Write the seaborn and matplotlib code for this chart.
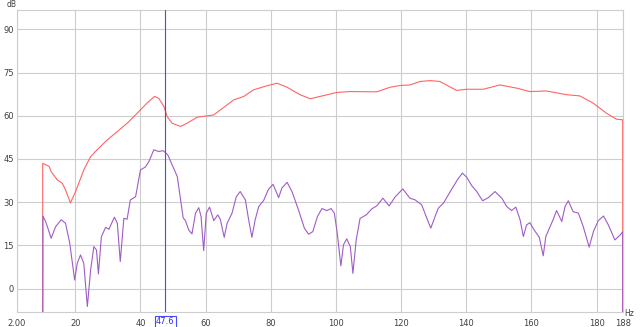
import matplotlib
matplotlib.use("Agg")
import matplotlib.pyplot as plt
import matplotlib.transforms as mtransforms
import seaborn as sns
import pandas as pd

# ---- data ----
red_hz = [10, 10, 12, 12.6, 14.5, 16, 17, 18.5, 20.1, 22.6, 24.7, 26.7, 29.8, 33.4,
          35.9, 39, 42, 44.3, 45.6, 47.2, 48.2, 49.7, 52.3, 54.3, 57.4, 60, 62.5,
          64.5, 68.6, 71.7, 74.7, 78.8, 81.9, 85, 89, 92.1, 96.2, 100.3, 104.4,
          112.5, 116.6, 119.7, 122.7, 125.8, 128.9, 131.9, 137, 140.1, 145.2,
          150.3, 155.4, 159.5, 164.6, 170.8, 174.8, 178.9, 183, 186.1, 188, 188]
red_db = [-60, 43.5, 42.4, 40.6, 37.7, 36.6, 34.3, 29.8, 33.7, 41.2, 45.8, 48.2, 51.6, 55.0,
          57.4, 60.9, 64.4, 66.7, 66.1, 63.2, 59.7, 57.4, 56.3, 57.4, 59.5, 59.9, 60.3,
          62.0, 65.5, 66.7, 69.0, 70.4, 71.3, 69.9, 67.3, 65.9, 67.0, 68.1, 68.4,
          68.3, 69.9, 70.5, 70.7, 71.9, 72.2, 71.9, 68.8, 69.2, 69.2,
          70.7, 69.6, 68.4, 68.6, 67.3, 66.9, 64.4, 60.9, 58.8, 58.6, -60]

purple_hz = [10, 10.06, 10.9, 12.6, 13.95, 15.7, 17, 18.3, 19.8, 20.6, 21.6, 22.6, 23.7,
             24.7, 25.7, 26.5, 27.1, 28, 29.3, 30.3, 32, 32.9, 33.8, 34.9, 35.9, 36.9,
             38.5, 40, 41.5, 42.6, 44.1, 45.6, 47, 48.4, 50.2, 51.3, 52.3, 53.1, 53.8,
             54.8, 55.8, 56.9, 57.9, 58.6, 59.4, 60.2, 61.2, 62.5, 63.7, 64.5, 65.7,
             66.6, 68.1, 69.4, 70.6, 72.2, 73.2, 74.2, 75.2, 76.3, 77.8, 79.3, 80.7,
             82.4, 83.4, 85, 86.5, 88.5, 90.3, 91.6, 92.9, 94.3, 95.7, 97.2, 98.5,
             99.5, 100.4, 101.5, 102.3, 103.3, 104.4, 105.2, 106.2, 107.4, 109.3, 111,
             112.5, 114.4, 116.3, 118.2, 120.5, 122.7, 124.3, 126.3, 127.9, 129.1,
             130.4, 131.4, 133, 135.5, 137.4, 138.8, 140.1, 141.7, 143.2, 145, 146.8,
             148.8, 150.9, 152.4, 153.9, 155.2, 156.5, 157.5, 158.5, 159.5, 160.8,
             162.4, 163.6, 164.4, 165.7, 166.7, 167.7, 169.3, 170.3, 171.3, 172.8,
             174.4, 175.9, 177.7, 179, 180.5, 182.1, 183.6, 185.6, 187.2, 188, 188]
purple_db = [-60, 25.2, 23.3, 17.5, 21.5, 23.9, 22.7, 15.8, 3.0, 8.8, 11.7, 8.8, -6.2,
             6.5, 14.6, 13.4, 5.1, 18.0, 21.3, 20.6, 24.8, 22.7, 9.4, 24.4, 24.1, 30.8,
             31.9, 41.2, 42.2, 44.1, 48.2, 47.6, 47.9, 46.4, 41.8, 38.9, 31.0, 24.6, 23.6,
             20.4, 19.0, 26.2, 28.1, 25.0, 13.2, 26.2, 28.3, 23.6, 25.6, 24.1, 17.8,
             22.7, 26.2, 31.9, 33.7, 30.8, 23.9, 17.8, 23.9, 28.5, 30.6, 34.5, 36.2,
             31.6, 34.9, 36.9, 33.7, 27.3, 21.0, 18.9, 19.8, 25.0, 27.8, 27.1, 27.8,
             26.2, 19.2, 7.9, 15.2, 17.3, 14.6, 5.3, 16.9, 24.4, 25.6, 27.7,
             28.7, 31.4, 28.7, 31.9, 34.6, 31.4, 30.8, 29.1, 24.4, 21.0,
             25.0, 27.9, 29.7, 34.5, 38.0, 40.1, 38.7, 35.7, 33.7, 30.5, 31.6,
             33.7, 31.4, 28.5, 27.1, 28.3, 23.9, 18.1, 22.1, 22.9, 20.4,
             17.8, 11.4, 18.1, 21.5, 24.1, 27.1, 23.3, 28.5, 30.5, 26.7,
             26.2, 21.5, 14.4, 19.8, 23.6, 25.2, 22.1, 16.9, 18.6, 19.8, -60]

x_ticks = [2, 20, 40, 60, 80, 100, 120, 140, 160, 180, 188]
x_tick_labels = ["2.00", "20", "40", "60", "80", "100", "120", "140", "160", "180", "188"]
y_ticks = [0, 15, 30, 45, 60, 75, 90]
y_tick_labels = ["0", "15", "30", "45", "60", "75", "90"]
cursor_hz = 47.6
cursor_label = "47.6"

# ---- figure ----
sns.set_style("white")
plt.rcParams["font.family"] = ["DejaVu Sans"]

fig = plt.figure(figsize=(6.4, 3.27), dpi=100)
ax = fig.add_axes([0.026, 0.045, 0.947, 0.9235])

red_df = pd.DataFrame({"Hz": red_hz, "dB": red_db})
purple_df = pd.DataFrame({"Hz": purple_hz, "dB": purple_db})

sns.lineplot(data=red_df, x="Hz", y="dB", sort=False, estimator=None,
             color="#ff6464", linewidth=0.8, ax=ax, zorder=3)
sns.lineplot(data=purple_df, x="Hz", y="dB", sort=False, estimator=None,
             color="#a05cc6", linewidth=0.8, ax=ax, zorder=4)

ax.axvline(cursor_hz, color="#4848ff", linewidth=0.8, zorder=5)

ax.set_xlim(2, 188)
ax.set_ylim(-8.2, 96.6)
ax.set_xticks(x_ticks)
ax.set_xticklabels(x_tick_labels)
ax.set_yticks(y_ticks)
ax.set_yticklabels(y_tick_labels)
ax.set_xlabel("")
ax.set_ylabel("")

ax.grid(True, color="#cdcdcd", linewidth=0.8, zorder=0)
ax.set_axisbelow(True)
for s in ax.spines.values():
    s.set_color("#cdcdcd")
    s.set_linewidth(0.8)

ax.tick_params(axis="both", length=0, labelsize=6, colors="#404040")
ax.tick_params(axis="x", pad=5)
ax.tick_params(axis="y", pad=2)

# cursor label box
trans = mtransforms.blended_transform_factory(ax.transData, ax.transAxes)
ax.text(cursor_hz, -0.032, cursor_label, transform=trans, ha="center", va="center",
        fontsize=6, color="#3030ff",
        bbox=dict(boxstyle="square,pad=0.15", facecolor="white", edgecolor="#4848ff",
                  linewidth=0.8), zorder=10, clip_on=False)

fig.text(12 / 640, 1 - 4.5 / 327, "dB", fontsize=5.5, color="#404040",
         ha="center", va="center")
fig.text(624 / 640, 1 - 313 / 327, "Hz", fontsize=5.5, color="#404040",
         ha="left", va="center")

fig.savefig("out.png", dpi=100)
